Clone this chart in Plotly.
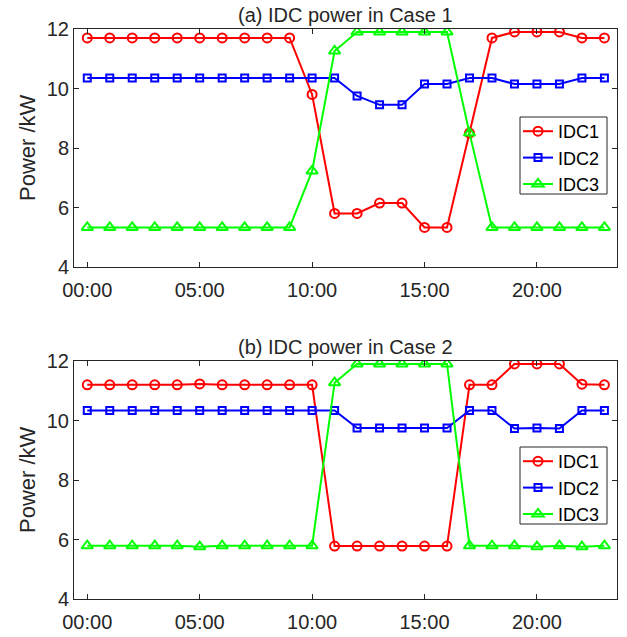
import plotly.graph_objects as go

# Hourly IDC power (kW)
hours = list(range(24))
tick_hours = [0, 5, 10, 15, 20]
tick_labels = ["00:00", "05:00", "10:00", "15:00", "20:00"]

case1_idc1 = [11.7, 11.7, 11.7, 11.7, 11.7, 11.7, 11.7, 11.7, 11.7, 11.7, 9.8, 5.8,
              5.8, 6.15, 6.15, 5.33, 5.33, 8.5, 11.7, 11.9, 11.9, 11.9, 11.7, 11.7]
case1_idc2 = [10.35, 10.35, 10.35, 10.35, 10.35, 10.35, 10.35, 10.35, 10.35, 10.35, 10.35, 10.35,
              9.75, 9.45, 9.45, 10.15, 10.15, 10.35, 10.35, 10.15, 10.15, 10.15, 10.35, 10.35]
case1_idc3 = [5.33, 5.33, 5.33, 5.33, 5.33, 5.33, 5.33, 5.33, 5.33, 5.33, 7.23, 11.26,
              11.9, 11.9, 11.9, 11.9, 11.9, 8.5, 5.33, 5.33, 5.33, 5.33, 5.33, 5.33]

case2_idc1 = [11.2, 11.2, 11.2, 11.2, 11.2, 11.23, 11.2, 11.2, 11.2, 11.2, 11.2, 5.78,
              5.78, 5.78, 5.78, 5.78, 5.78, 11.2, 11.2, 11.9, 11.9, 11.9, 11.22, 11.2]
case2_idc2 = [10.34, 10.34, 10.34, 10.34, 10.34, 10.34, 10.34, 10.34, 10.34, 10.34, 10.34, 10.34,
              9.75, 9.75, 9.75, 9.75, 9.75, 10.34, 10.34, 9.73, 9.75, 9.73, 10.34, 10.34]
case2_idc3 = [5.79, 5.79, 5.79, 5.79, 5.79, 5.76, 5.79, 5.79, 5.79, 5.79, 5.79, 11.27,
              11.9, 11.9, 11.9, 11.9, 11.9, 5.79, 5.79, 5.79, 5.76, 5.79, 5.76, 5.79]

series_names = ["IDC1", "IDC2", "IDC3"]
titles = ["(a) IDC power in Case 1", "(b) IDC power in Case 2"]

colors = ["#FF0000", "#0000FF", "#00FF00"]
symbols = ["circle-open", "square-open", "triangle-up-open"]
msizes = [9, 7, 10]
ink = "#262626"
font_family = "Liberation Sans, Arial, sans-serif"

fig = go.Figure()

panels = [
    (case1_idc1, case1_idc2, case1_idc3),
    (case2_idc1, case2_idc2, case2_idc3),
]

for p, data in enumerate(panels):
    xa = "x" if p == 0 else "x2"
    ya = "y" if p == 0 else "y2"
    leg = "legend" if p == 0 else "legend2"
    for k, vals in enumerate(data):
        fig.add_trace(go.Scatter(
            x=hours, y=vals, name=series_names[k], mode="lines+markers",
            xaxis=xa, yaxis=ya, legend=leg,
            line=dict(color=colors[k], width=2),
            marker=dict(symbol=symbols[k], size=msizes[k], color=colors[k],
                        line=dict(width=2, color=colors[k])),
        ))

W, H = 627, 637
ml, mr, mt, mb = 74, 10, 29, 38
plot_w = W - ml - mr
plot_h = H - mt - mb
panel_h = 238
top_dom = [(plot_h - panel_h) / plot_h, 1.0]
bot_dom = [0.0, panel_h / plot_h]


def py(px_from_top):
    """Convert a pixel row of the page to a paper y fraction."""
    return (H - mb - px_from_top) / plot_h


def px(px_from_left):
    """Convert a pixel column of the page to a paper x fraction."""
    return (px_from_left - ml) / plot_w


axis_common = dict(
    showline=True, linecolor=ink, linewidth=1, mirror="ticks",
    ticks="inside", ticklen=5, tickwidth=1, tickcolor=ink,
    showgrid=False, zeroline=False, automargin=False,
    tickfont=dict(family=font_family, size=20, color=ink),
)

xaxis_cfg = dict(axis_common, range=[-0.59, 23.56], tickmode="array",
                 tickvals=tick_hours, ticktext=tick_labels,
                 ticklabelstandoff=5)
yaxis_cfg = dict(axis_common, range=[4, 12], tickmode="array",
                 tickvals=[4, 6, 8, 10, 12])

legend_cfg = dict(
    bgcolor="rgba(0,0,0,0)", borderwidth=0,
    font=dict(family=font_family, size=18, color="#000000"),
    xanchor="right", yanchor="top", tracegroupgap=0,
    itemwidth=30,
)

# legend frames (top edge in page pixels for each panel)
legend_tops = [117, 447]
legend_h = 77

fig.update_layout(
    width=W, height=H,
    margin=dict(l=ml, r=mr, t=mt, b=mb),
    paper_bgcolor="white", plot_bgcolor="white",
    showlegend=True,
    xaxis=dict(xaxis_cfg, domain=[0, 1], anchor="y"),
    yaxis=dict(yaxis_cfg, domain=top_dom, anchor="x"),
    xaxis2=dict(xaxis_cfg, domain=[0, 1], anchor="y2"),
    yaxis2=dict(yaxis_cfg, domain=bot_dom, anchor="x2"),
    legend=dict(legend_cfg, x=px(605), y=py(legend_tops[0] - 4)),
    legend2=dict(legend_cfg, x=px(605), y=py(legend_tops[1] - 4)),
)

for top in legend_tops:
    fig.add_shape(
        type="rect", xref="paper", yref="paper",
        x0=px(520), x1=px(607), y0=py(top + legend_h), y1=py(top),
        line=dict(color=ink, width=1), fillcolor="white", layer="above",
    )

for p, dom in enumerate([top_dom, bot_dom]):
    fig.add_annotation(
        text=titles[p], xref="paper", yref="paper", x=0.5, y=dom[1],
        xanchor="center", yanchor="bottom", showarrow=False, yshift=1,
        font=dict(family=font_family, size=20, color=ink),
    )
    fig.add_annotation(
        text="Power /kW", xref="paper", yref="paper",
        x=px(27), y=(dom[0] + dom[1]) / 2,
        xanchor="center", yanchor="middle", textangle=-90, showarrow=False,
        font=dict(family=font_family, size=22, color=ink),
    )

fig.write_html("out.html")
